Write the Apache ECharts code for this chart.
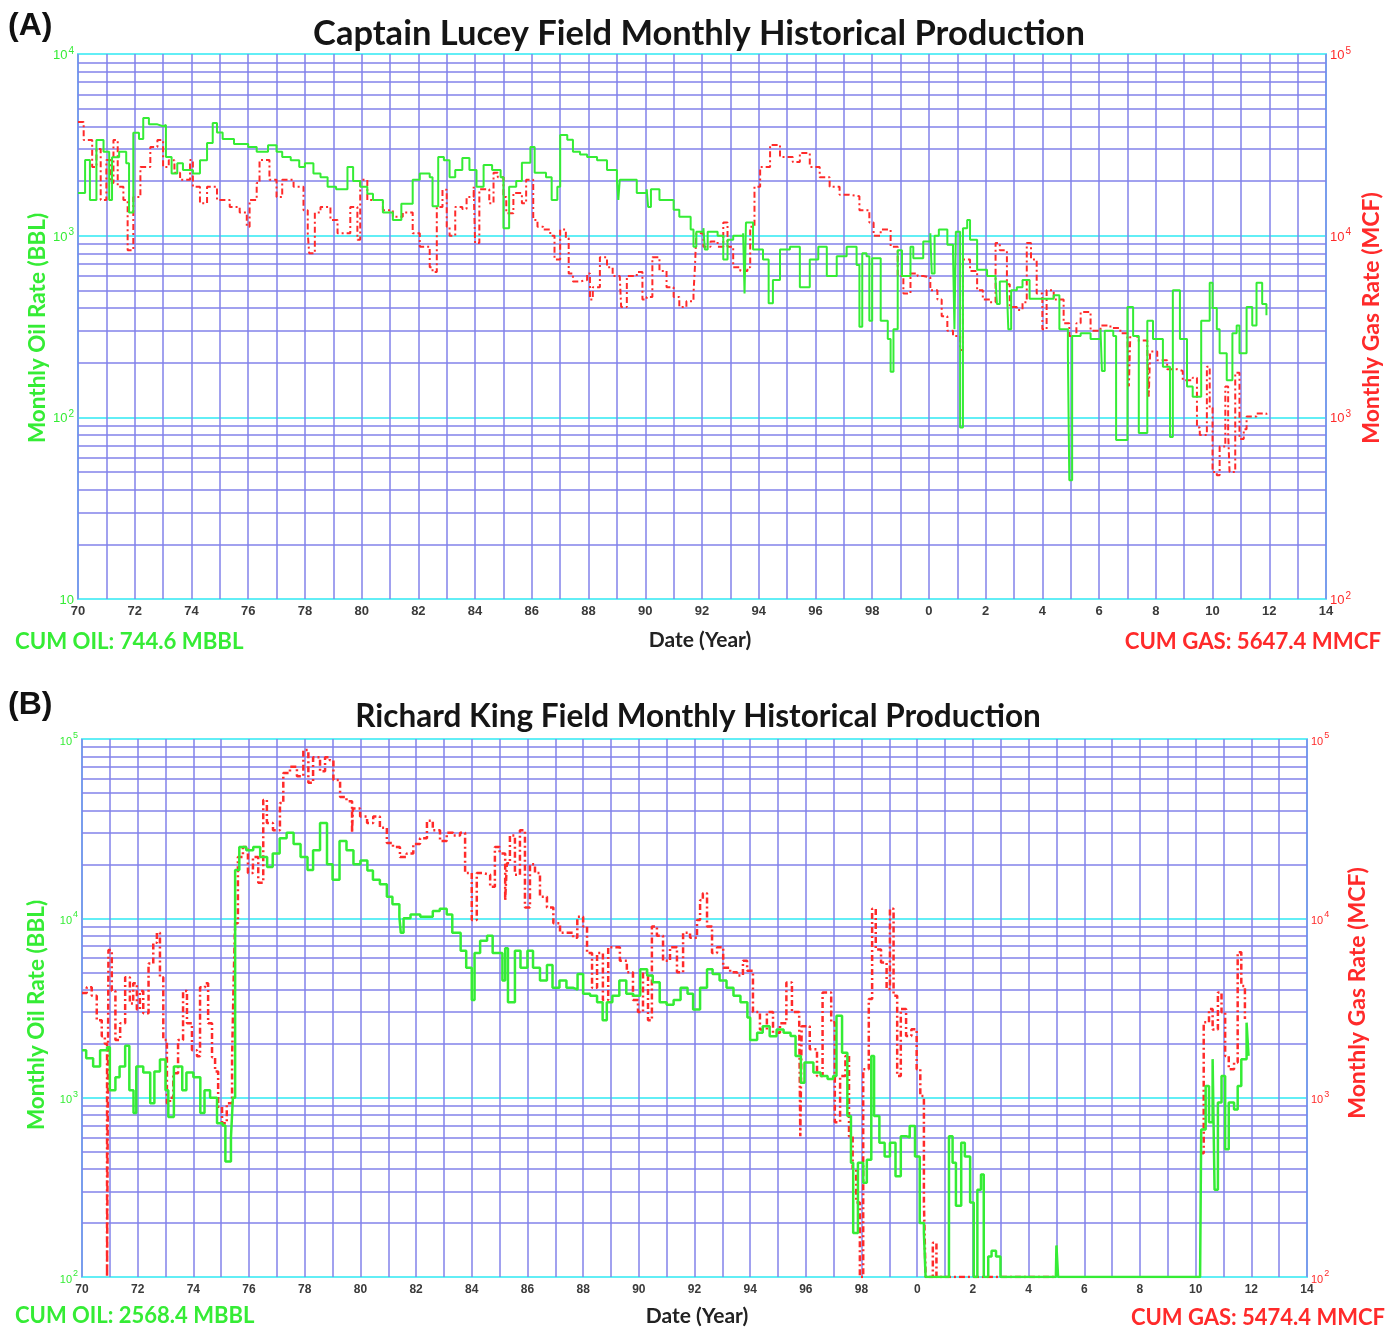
<!DOCTYPE html>
<html>
<head>
<meta charset="utf-8">
<title>Monthly Historical Production</title>
<script src="https://cdn.jsdelivr.net/npm/echarts@6/dist/echarts.min.js"></script>
<style>
  html, body { margin: 0; padding: 0; background: #ffffff; }
  #chart { width: 1396px; height: 1328px; }
</style>
</head>
<body>
<div id="chart"></div>
<script>
// ---- Captain Lucey field: [decimal year, monthly oil (BBL)] ----
const luceyOil = [
  [1970.0,1720],[1970.25,2610],[1970.42,1570],[1970.65,3360],[1970.9,2900],[1971.1,1570],[1971.2,2700],
  [1971.45,2900],[1971.7,2500],[1971.8,1340],[1971.95,3680],[1972.15,3400],[1972.3,4450],[1972.5,4100],
  [1972.8,4000],[1973.0,4070],[1973.1,2710],[1973.3,2200],[1973.5,2500],[1973.7,2300],[1974.05,2200],
  [1974.3,2600],[1974.55,3240],[1974.75,4170],[1974.9,3700],[1975.1,3400],[1975.5,3200],[1976.0,3080],
  [1976.3,2900],[1976.7,3150],[1977.0,2900],[1977.2,2710],[1977.5,2600],[1977.8,2390],[1978.0,2500],
  [1978.3,2200],[1978.55,2100],[1978.8,1860],[1979.1,1800],[1979.35,1800],[1979.5,2390],[1979.7,2000],
  [1979.95,1860],[1980.2,1700],[1980.4,1574],[1980.75,1340],[1981.1,1220],[1981.4,1500],[1981.8,2030],
  [1982.05,2200],[1982.4,2100],[1982.5,1450],[1982.7,2710],[1982.9,2600],[1983.1,2100],[1983.3,2300],
  [1983.55,2680],[1983.8,2300],[1984.05,1860],[1984.3,2450],[1984.6,2300],[1984.9,2100],[1985.0,1100],
  [1985.2,1860],[1985.45,2000],[1985.65,2520],[1985.95,3080],[1986.1,2220],[1986.5,2100],[1986.7,1574],
  [1986.9,1860],[1987.0,3580],[1987.25,3370],[1987.45,2900],[1987.7,2800],[1987.95,2710],[1988.3,2600],
  [1988.65,2300],[1989.0,2030],[1989.05,1574],[1989.1,2030],[1989.35,2030],[1989.7,1718],[1990.05,1800],
  [1990.1,1440],[1990.2,1800],[1990.5,1574],[1991.0,1390],[1991.2,1270],[1991.6,1080],[1991.7,870],
  [1991.8,1050],[1992.05,1100],[1992.1,840],[1992.2,1050],[1992.55,1000],[1992.75,740],[1992.9,950],
  [1993.1,1000],[1993.45,1030],[1993.5,480],[1993.55,1180],[1993.8,840],[1994.15,740],[1994.35,425],
  [1994.5,570],[1994.75,840],[1995.1,870],[1995.45,520],[1995.8,740],[1996.1,870],[1996.4,600],
  [1996.75,770],[1997.1,870],[1997.45,690],[1997.55,315],[1997.65,800],[1997.8,770],[1997.9,340],
  [1998.0,750],[1998.3,340],[1998.55,270],[1998.65,178],[1998.75,305],[1998.9,830],[1999.05,600],
  [1999.35,870],[1999.45,750],[1999.8,930],[2000.05,1030],[2000.1,620],[2000.2,1000],[2000.35,1080],
  [2000.65,890],[2000.85,800],[2000.9,305],[2000.95,1050],[2001.1,88],[2001.2,1100],[2001.35,1220],
  [2001.45,950],[2001.7,650],[2002.05,600],[2002.35,570],[2002.4,420],[2002.5,560],[2002.75,500],
  [2002.8,305],[2002.9,500],[2003.1,520],[2003.3,570],[2003.55,450],[2004.0,450],[2004.4,470],
  [2004.6,305],[2004.9,225],[2004.95,45],[2005.05,280],[2005.35,290],[2005.7,270],[2006.05,305],
  [2006.1,180],[2006.2,300],[2006.5,280],[2006.6,75],[2006.9,75],[2007.0,405],[2007.2,280],
  [2007.4,82],[2007.6,82],[2007.7,340],[2007.9,270],[2008.25,190],[2008.5,78],[2008.6,500],
  [2008.85,270],[2009.1,148],[2009.3,130],[2009.6,340],[2009.9,550],[2010.0,400],[2010.15,305],
  [2010.25,225],[2010.5,160],[2010.7,290],[2010.85,320],[2010.95,225],[2011.2,405],[2011.4,320],
  [2011.55,550],[2011.75,420],[2011.9,365]
];

// ---- Captain Lucey field: [decimal year, monthly gas (MCF)] ----
const luceyGas = [
  [1970.0,42300],[1970.2,33600],[1970.5,23900],[1970.65,30000],[1970.8,15700],[1971.0,26100],
  [1971.15,19500],[1971.25,33600],[1971.4,18600],[1971.6,15700],[1971.75,8300],[1971.95,16300],
  [1972.2,23900],[1972.55,30800],[1972.8,33600],[1973.0,23900],[1973.2,26000],[1973.4,22200],
  [1973.6,20300],[1973.95,26100],[1974.05,18600],[1974.3,15100],[1974.55,18600],[1974.9,15700],
  [1975.35,14400],[1975.7,13400],[1975.95,11200],[1976.05,15700],[1976.3,19500],[1976.4,26100],
  [1976.75,20300],[1977.0,16300],[1977.2,20300],[1977.6,18600],[1977.95,13800],[1978.1,10300],
  [1978.15,8000],[1978.35,13400],[1978.55,14400],[1978.9,12200],[1979.15,10300],[1979.6,14400],
  [1979.85,9500],[1979.95,20300],[1980.2,15700],[1980.75,13800],[1981.1,12700],[1981.45,13400],
  [1981.8,10300],[1982.05,8700],[1982.4,6700],[1982.5,6300],[1982.65,14400],[1982.85,17900],
  [1983.0,11200],[1983.1,10000],[1983.3,14400],[1983.55,14000],[1983.7,16300],[1983.95,18600],
  [1984.0,9100],[1984.15,18000],[1984.5,15100],[1984.65,22200],[1984.8,21000],[1985.0,16300],
  [1985.1,13300],[1985.35,17200],[1985.65,15100],[1985.8,20300],[1986.05,12200],[1986.2,11200],
  [1986.4,10800],[1986.65,10000],[1986.8,7400],[1987.0,10800],[1987.2,9700],[1987.3,6200],
  [1987.45,5600],[1987.7,5700],[1987.95,6200],[1988.05,4450],[1988.15,5200],[1988.4,7600],
  [1988.65,6700],[1988.85,6000],[1989.1,6000],[1989.15,4050],[1989.35,6000],[1989.7,6300],
  [1989.9,4450],[1990.05,4600],[1990.25,7600],[1990.5,6400],[1990.75,5200],[1991.0,4600],
  [1991.2,4050],[1991.45,4350],[1991.7,4800],[1991.75,6700],[1991.8,10300],[1992.05,8700],
  [1992.3,9300],[1992.55,8700],[1992.75,11800],[1992.9,8700],[1993.1,6700],[1993.35,6400],
  [1993.6,6700],[1993.7,11200],[1993.85,18600],[1994.05,23900],[1994.4,31600],[1994.75,27100],
  [1995.0,27100],[1995.2,25400],[1995.45,28500],[1995.8,23900],[1996.15,21000],[1996.5,18600],
  [1996.85,16800],[1997.2,16500],[1997.55,13800],[1997.9,11800],[1998.05,10000],[1998.3,10800],
  [1998.65,8700],[1998.9,6000],[1999.1,4800],[1999.35,6200],[1999.6,6000],[1999.8,5900],
  [2000.05,5000],[2000.3,4450],[2000.45,3600],[2000.65,3000],[2000.85,2800],[2001.1,2350],
  [2001.2,7400],[2001.45,6400],[2001.7,5000],[2001.9,4450],[2002.15,4300],[2002.35,9100],
  [2002.5,8300],[2002.75,5400],[2002.85,4050],[2003.1,3900],[2003.3,4300],[2003.45,9100],
  [2003.6,7400],[2003.8,4800],[2004.0,3050],[2004.15,5000],[2004.4,4450],[2004.75,3300],
  [2004.95,2800],[2005.2,3300],[2005.35,3800],[2005.7,3000],[2006.05,3200],[2006.4,3100],
  [2006.75,2900],[2007.0,2800],[2007.05,1480],[2007.1,2800],[2007.35,2650],[2007.7,2350],
  [2007.75,1300],[2007.8,2300],[2008.05,2060],[2008.4,1840],[2008.75,1800],[2008.95,1600],
  [2009.3,1650],[2009.45,880],[2009.55,800],[2009.8,1900],[2009.9,1130],[2010.0,500],
  [2010.15,480],[2010.25,690],[2010.45,1480],[2010.55,820],[2010.6,500],[2010.8,1760],
  [2010.95,760],[2011.1,860],[2011.2,1010],[2011.55,1050],[2011.9,1010]
];

// ---- Richard King field: [decimal year, monthly oil (BBL)]; 100 = no production (plotted on the floor) ----
const kingOil = [
  [1970.0,1840],[1970.15,1660],[1970.4,1490],[1970.65,1840],[1970.9,1910],[1971.0,1100],[1971.2,1300],
  [1971.35,1490],[1971.55,1950],[1971.7,1100],[1971.85,820],[1971.95,1490],[1972.2,1380],[1972.45,930],
  [1972.6,1400],[1972.8,1630],[1973.0,1100],[1973.1,780],[1973.3,1490],[1973.6,1100],[1973.75,1380],
  [1974.0,1300],[1974.25,820],[1974.4,1100],[1974.6,1000],[1974.85,720],[1975.05,700],[1975.15,440],
  [1975.35,600],[1975.42,1000],[1975.5,18600],[1975.65,25000],[1975.9,24000],[1976.15,25000],
  [1976.4,22000],[1976.65,19300],[1976.85,23000],[1977.1,28000],[1977.35,30000],[1977.6,26000],
  [1977.85,22000],[1978.1,18600],[1978.3,24000],[1978.55,34000],[1978.8,20000],[1979.0,16400],
  [1979.25,27000],[1979.5,24000],[1979.75,20000],[1980.0,21000],[1980.25,18500],[1980.45,16400],
  [1980.7,15500],[1980.95,13200],[1981.15,12000],[1981.4,10200],[1981.45,8300],[1981.55,10000],
  [1981.8,10500],[1982.15,10200],[1982.4,10200],[1982.6,11000],[1982.85,11300],[1983.1,10500],
  [1983.3,8300],[1983.6,6600],[1983.8,5300],[1984.0,3500],[1984.1,6400],[1984.3,7500],[1984.55,8000],
  [1984.75,6400],[1985.1,4500],[1985.2,6800],[1985.3,3400],[1985.55,6600],[1985.75,5300],[1986.0,6600],
  [1986.2,5300],[1986.45,4500],[1986.7,5500],[1986.9,4100],[1987.15,4500],[1987.4,4100],[1987.65,4000],
  [1987.8,4900],[1988.0,3800],[1988.25,3700],[1988.5,3400],[1988.7,2700],[1988.85,3400],[1989.05,3700],
  [1989.3,4500],[1989.55,3800],[1989.8,3700],[1990.05,5200],[1990.3,4800],[1990.5,4400],[1990.75,3400],
  [1991.0,3300],[1991.25,3500],[1991.5,4100],[1991.75,3800],[1991.95,3100],[1992.2,4100],[1992.45,5200],
  [1992.65,4900],[1992.9,4500],[1993.15,4100],[1993.4,3700],[1993.65,3400],[1993.9,2800],[1994.0,2100],
  [1994.25,2300],[1994.45,2500],[1994.7,2200],[1994.95,2400],[1995.2,2300],[1995.45,2210],[1995.63,1710],
  [1995.82,1210],[1995.95,1570],[1996.27,1380],[1996.53,1320],[1996.78,1270],[1996.98,1320],[1997.1,2860],
  [1997.3,1780],[1997.49,790],[1997.62,433],[1997.7,176],[1997.87,433],[1998.06,335],[1998.19,450],
  [1998.35,1710],[1998.45,790],[1998.64,560],[1998.83,470],[1999.02,560],[1999.22,365],[1999.41,610],
  [1999.6,600],[1999.73,695],[1999.92,470],[2000.09,200],[2000.24,176],[2000.3,100],[2001.0,100],
  [2001.14,610],[2001.27,433],[2001.39,250],[2001.58,560],[2001.71,470],[2001.9,260],[2002.03,100],
  [2002.16,307],[2002.29,373],[2002.39,100],[2002.55,130],[2002.67,140],[2002.83,130],[2002.99,100],
  [2004.98,100],[2005.0,150],[2005.06,100],[2010.16,100],[2010.2,665],[2010.36,1160],[2010.48,730],
  [2010.61,1640],[2010.68,307],[2010.8,940],[2010.93,1320],[2011.06,515],[2011.19,940],[2011.38,860],
  [2011.51,1160],[2011.64,1640],[2011.83,2620],[2011.9,1710]
];

// ---- Richard King field: [decimal year, monthly gas (MCF)]; '-' breaks the line while the field is shut in ----
const kingGas = [
  [1970.0,3830],[1970.17,4130],[1970.35,3700],[1970.53,2700],[1970.71,2200],[1970.82,2000],[1970.9,100],
  [1970.95,6650],[1971.07,3930],[1971.2,2100],[1971.37,2600],[1971.55,4700],[1971.72,3350],[1971.84,4340],
  [1971.97,3100],[1972.08,3930],[1972.2,2960],[1972.39,5600],[1972.56,7300],[1972.69,8300],[1972.8,4700],
  [1972.92,2100],[1973.05,930],[1973.16,1000],[1973.28,1370],[1973.45,2100],[1973.63,3930],[1973.77,2600],
  [1973.95,1840],[1974.13,1700],[1974.24,4130],[1974.42,4340],[1974.53,2600],[1974.67,1680],[1974.78,1400],
  [1974.89,890],[1975.03,720],[1975.2,930],[1975.39,1640],[1975.45,4700],[1975.5,9400],[1975.6,22000],
  [1975.78,25000],[1975.96,17900],[1976.14,22000],[1976.33,15800],[1976.51,45700],[1976.64,34000],
  [1976.86,31000],[1977.11,43900],[1977.23,64600],[1977.47,70000],[1977.72,62000],[1977.95,86800],
  [1978.13,57000],[1978.3,79000],[1978.55,66000],[1978.73,79000],[1978.9,76000],[1979.03,59000],
  [1979.27,47500],[1979.5,45000],[1979.7,30000],[1979.73,41000],[1979.99,37000],[1980.24,34000],
  [1980.46,37000],[1980.7,32000],[1980.95,26300],[1981.17,25000],[1981.42,22000],[1981.66,23000],
  [1981.9,26000],[1982.14,28000],[1982.39,35000],[1982.6,31000],[1982.86,27000],[1983.1,30000],
  [1983.33,29000],[1983.58,30000],[1983.76,17900],[1984.0,9800],[1984.18,17900],[1984.4,17500],
  [1984.66,15000],[1984.83,25000],[1985.0,23000],[1985.2,12600],[1985.26,20300],[1985.37,29000],
  [1985.55,17500],[1985.73,31000],[1985.91,11500],[1986.09,20000],[1986.27,17900],[1986.45,13200],
  [1986.7,11500],[1986.93,9400],[1987.17,8300],[1987.42,8300],[1987.64,7800],[1987.79,10200],
  [1988.0,9000],[1988.14,6400],[1988.32,4100],[1988.5,6400],[1988.71,3500],[1988.9,6900],[1989.07,6900],
  [1989.32,5800],[1989.57,5000],[1989.79,3500],[1989.97,3000],[1990.15,5000],[1990.33,2700],[1990.47,9000],
  [1990.65,8000],[1990.87,5800],[1991.12,6900],[1991.37,5000],[1991.59,8300],[1991.84,7800],[1992.09,9800],
  [1992.2,12600],[1992.3,13800],[1992.45,9000],[1992.63,6400],[1992.81,6900],[1993.03,5300],[1993.28,5000],
  [1993.53,4800],[1993.74,5800],[1993.89,5100],[1994.1,3000],[1994.35,2400],[1994.6,3000],[1994.82,2300],
  [1995.07,2600],[1995.3,4390],[1995.5,3000],[1995.76,2750],[1995.8,610],[1995.85,2500],[1996.14,1860],
  [1996.4,1320],[1996.6,3860],[1996.78,3860],[1996.91,2630],[1997.04,730],[1997.23,1320],[1997.42,1710],
  [1997.55,610],[1997.68,400],[1997.81,260],[1997.94,100],[1998.06,1440],[1998.26,3550],[1998.38,11300],
  [1998.51,6700],[1998.7,5670],[1998.9,4030],[1999.02,11300],[1999.15,3700],[1999.28,1320],[1999.41,3120],
  [1999.6,2210],[1999.79,2410],[1999.98,1440],[2000.11,1020],[2000.24,260],[2000.3,100],[2000.56,155],
  [2000.69,100],[2005.0,'-'],[2010.16,490],[2010.29,2630],[2010.48,3120],[2010.61,2400],[2010.8,3860],
  [2010.93,2990],[2011.06,1710],[2011.19,1440],[2011.38,1570],[2011.51,6460],[2011.64,4200],[2011.77,2750]
];

const OIL_GREEN = '#35ec35';
const GAS_RED = '#ff2a2a';
const GRID_BLUE = '#8282ea';
const GRID_CYAN = '#62eef6';

// minor log gridlines at 2..9 x 10^k inside each decade of an axis range
function minorLines(lo, hi) {
  const out = [];
  for (let d = lo; d < hi; d *= 10) {
    for (let k = 2; k <= 9; k++) out.push({ yAxis: k * d });
  }
  return out;
}

function yearLabel(v) {
  return (Math.round(v) % 2 === 0) ? String(Math.round(v) % 100) : '';
}

function powLabel(bareTen) {
  return function (v) {
    const e = Math.round(Math.log10(v));
    if (bareTen && e === 1) return '{b|10}';
    return '{b|10}{s|' + e + '}';
  };
}

function powRich(color, base, sup) {
  return {
    b: { color: color, fontSize: base, fontFamily: 'Liberation Sans', lineHeight: 16, verticalAlign: 'bottom' },
    s: { color: color, fontSize: sup, fontFamily: 'Liberation Sans', lineHeight: 16, verticalAlign: 'top', padding: [0, 0, 0, 1] }
  };
}

function xAxisFor(gridIndex, size, margin) {
  return {
    gridIndex: gridIndex, type: 'value', min: 1970, max: 2014, interval: 1,
    axisLine: { show: false }, axisTick: { show: false },
    axisLabel: { formatter: yearLabel, color: '#3a3a3a', fontWeight: 'bold', fontSize: size,
                 fontFamily: 'Liberation Sans', margin: margin, showMinLabel: true, showMaxLabel: true },
    splitLine: { show: true, lineStyle: { color: GRID_BLUE, width: 1.5 } }
  };
}

function yAxisFor(gridIndex, pos, min, max, color, bareTen, base, sup, showSplit) {
  return {
    gridIndex: gridIndex, type: 'log', logBase: 10, min: min, max: max, position: pos,
    axisLine: { show: false }, axisTick: { show: false },
    axisLabel: { formatter: powLabel(bareTen), rich: powRich(color, base, sup), margin: 4 },
    splitLine: { show: showSplit, lineStyle: { color: GRID_CYAN, width: 2 } }
  };
}

function gridSeries(xi, yi, lo, hi) {
  return {
    type: 'line', xAxisIndex: xi, yAxisIndex: yi, data: [], silent: true, z: 1,
    markLine: { silent: true, symbol: 'none', z: 1, animation: false,
      label: { show: false },
      lineStyle: { color: GRID_BLUE, width: 1.5, type: 'solid' },
      emphasis: { disabled: true },
      data: minorLines(lo, hi) }
  };
}

function oilSeries(name, data, xi, yi, w) {
  return { name: name, type: 'line', data: data, xAxisIndex: xi, yAxisIndex: yi, step: 'end',
    showSymbol: false, z: 10, clip: true,
    lineStyle: { color: OIL_GREEN, width: w } };
}

function gasSeries(name, data, xi, yi, w) {
  return { name: name, type: 'line', data: data, xAxisIndex: xi, yAxisIndex: yi, step: 'end',
    showSymbol: false, z: 9, clip: true, connectNulls: false,
    lineStyle: { color: GAS_RED, width: w, type: [6, 3, 2, 3] } };
}

function txt(x, y, text, font, color, align, rot) {
  return { type: 'text', x: x, y: y, rotation: rot || 0, z: 100,
    style: { text: text, font: font, fill: color, align: align || 'center', textAlign: align || 'center',
             verticalAlign: 'middle', textVerticalAlign: 'middle' } };
}

const chart = echarts.init(document.getElementById('chart'), null, { renderer: 'canvas' });

chart.setOption({
  animation: false,
  backgroundColor: '#ffffff',
  grid: [
    { left: 78, top: 54, width: 1248, height: 545, show: true, borderColor: GRID_CYAN, borderWidth: 2, backgroundColor: '#ffffff' },
    { left: 82, top: 739, width: 1225, height: 538, show: true, borderColor: GRID_CYAN, borderWidth: 2, backgroundColor: '#ffffff' }
  ],
  xAxis: [ xAxisFor(0, 13, 6), xAxisFor(1, 12, 7) ],
  yAxis: [
    yAxisFor(0, 'left', 10, 10000, OIL_GREEN, true, 13, 10, true),
    yAxisFor(0, 'right', 100, 100000, GAS_RED, false, 13, 10, false),
    yAxisFor(1, 'left', 100, 100000, OIL_GREEN, false, 11, 9, true),
    yAxisFor(1, 'right', 100, 100000, GAS_RED, false, 11, 9, false)
  ],
  series: [
    gridSeries(0, 0, 10, 10000),
    gridSeries(1, 2, 100, 100000),
    gasSeries('Captain Lucey gas', luceyGas, 0, 1, 2),
    oilSeries('Captain Lucey oil', luceyOil, 0, 0, 2),
    gasSeries('Richard King gas', kingGas, 1, 3, 2.5),
    oilSeries('Richard King oil', kingOil, 1, 2, 2.5)
  ],
  graphic: [
    txt(8, 26, '(A)', 'bold 32px "Liberation Sans"', '#111', 'left'),
    txt(699, 34, 'Captain Lucey Field Monthly Historical Production', 'bold 34.5px Lato', '#151515'),
    txt(38, 328, 'Monthly Oil Rate (BBL)', 'bold 22.5px Lato', OIL_GREEN, 'center', Math.PI / 2),
    txt(1372, 318, 'Monthly Gas Rate (MCF)', 'bold 23px Lato', GAS_RED, 'center', Math.PI / 2),
    txt(700, 640, 'Date (Year)', 'bold 21px Lato', '#222'),
    txt(15, 642, 'CUM OIL: 744.6 MBBL', 'bold 22.2px Lato', OIL_GREEN, 'left'),
    txt(1381, 642, 'CUM GAS: 5647.4 MMCF', 'bold 22.2px Lato', GAS_RED, 'right'),

    txt(8, 705, '(B)', 'bold 32px "Liberation Sans"', '#111', 'left'),
    txt(698, 717, 'Richard King Field Monthly Historical Production', 'bold 31.5px Lato', '#151515'),
    txt(37, 1015, 'Monthly Oil Rate (BBL)', 'bold 22.5px Lato', OIL_GREEN, 'center', Math.PI / 2),
    txt(1358, 993, 'Monthly Gas Rate (MCF)', 'bold 23px Lato', GAS_RED, 'center', Math.PI / 2),
    txt(697, 1316, 'Date (Year)', 'bold 21px Lato', '#222'),
    txt(15, 1316, 'CUM OIL: 2568.4 MBBL', 'bold 22px Lato', OIL_GREEN, 'left'),
    txt(1385, 1318, 'CUM GAS: 5474.4 MMCF', 'bold 22px Lato', GAS_RED, 'right')
  ]
});
</script>
</body>
</html>
